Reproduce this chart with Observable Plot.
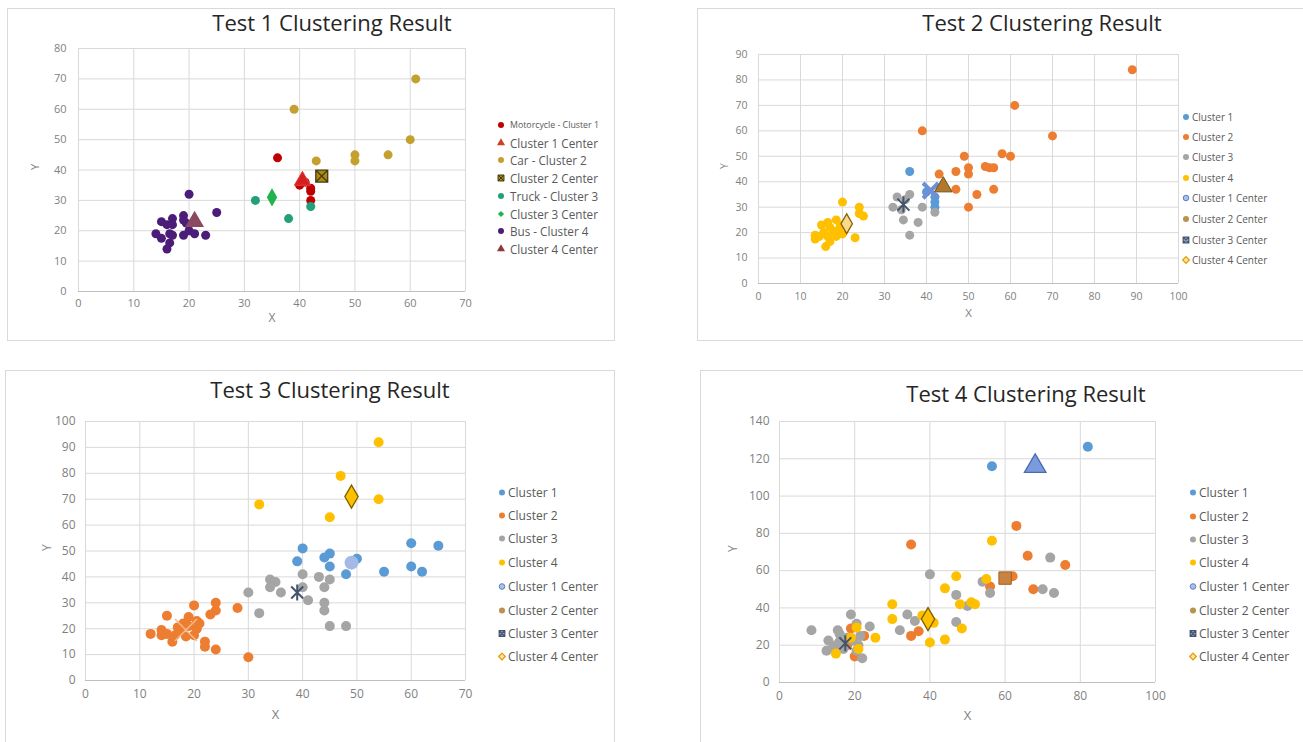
<!DOCTYPE html>
<html><head>
<meta charset="utf-8">
<script src="https://cdn.jsdelivr.net/npm/d3@7"></script>
<script src="https://cdn.jsdelivr.net/npm/@observablehq/plot@0.6"></script>
<style>
body{margin:0;width:1303px;height:742px;position:relative;background:#fff;font-family:"Open Sans",sans-serif;overflow:hidden}
.panel{position:absolute;border:1px solid #d9d9d9;box-sizing:border-box}
.title{position:absolute;transform:translate(-50%,-50%);white-space:nowrap;color:#262626;font-size:22px}
.plot{position:absolute}
.legend{position:absolute;color:#595959;white-space:nowrap}
.legend .item{position:absolute;display:flex;align-items:center;transform:translateY(-50%)}
.legend svg{display:block;overflow:visible}
</style>
</head><body>
<script>
// ---------- Test 1 data ----------
const t1Motorcycle = [[36,44],[40,35],[41,36],[42,34],[42,33],[42,30]];
const t1Center1 = [[40.5,36.5]];
const t1Car = [[61,70],[39,60],[60,50],[50,45],[50,43],[56,45],[43,43]];
const t1Center2 = [[44,38]];
const t1Truck = [[32,30],[38,24],[42,28]];
const t1Center3 = [[35,31]];
const t1Bus = [[20,32],[25,26],[19,25],[17,24],[15,23],[16,22],[17,22],[19,23.5],[19.5,22.5],[14,19],[15,17.5],[16.5,19],[17,18.5],[16.5,16],[16,14],[19,18.5],[20,20],[21,19],[23,18.5]];
const t1Center4 = [[21,23]];
const t1Labels = ["Motorcycle - Cluster 1","Cluster 1 Center","Car - Cluster 2","Cluster 2 Center","Truck - Cluster 3","Cluster 3 Center","Bus - Cluster 4","Cluster 4 Center"];

// ---------- Test 2 data ----------
const t2Cluster1 = [[36,44],[40,36],[42,34],[42,32],[42,30]];
const t2Cluster2 = [[89,84],[61,70],[39,60],[70,58],[49,50],[58,51],[60,50],[50,45.5],[50,43],[47,44],[43,43],[54,46],[55,45.5],[56,45.5],[47,37],[52,35],[56,37],[50,30]];
const t2Cluster3 = [[33,34],[36,35],[32,30],[34,29],[35,33],[39,30],[42,28],[34.5,25],[38,24],[36,19]];
const t2Cluster4 = [[20,32],[24,30],[24,27.5],[25,26.5],[15,23],[16.5,24],[18.5,25],[17,22],[19.5,23],[13.5,19],[13.5,17.5],[14.5,18.5],[16.5,18.5],[16,14.5],[17,16.5],[18.5,18.5],[20,19.5],[23,18],[18,20.5],[15.5,20],[19,21]];
const t2Center1 = [[41,36.5]];
const t2Center2 = [[44,38]];
const t2Center3 = [[34.5,31]];
const t2Center4 = [[21,23.5]];

// ---------- Test 3 data ----------
const t3Cluster1 = [[40,51],[39,46],[44,47.5],[45,49],[45,44],[50,47],[48,41],[55,42],[60,53],[65,52],[60,44],[62,42]];
const t3Cluster2 = [[20,29],[24,30],[24,27],[23,25.5],[28,28],[15,25],[12,18],[14,19.5],[14,17.5],[15,18],[16,15],[16.5,17.5],[18,22],[19,24.5],[20.5,23],[20.5,20],[20,17.5],[17.5,19.5],[22,15],[22,13],[24,12],[30,9],[19,21],[21,22],[17,20.5],[18.5,17]];
const t3Cluster3 = [[40,41],[43,40],[44,36],[45,39],[34,39],[35,38],[34,36],[36,34],[30,34],[32,26],[41,31],[40,36],[44,30],[44,27],[45,21],[48,21]];
const t3Cluster4 = [[54,92],[47,79],[54,70],[32,68],[45,63]];
const t3Center1 = [[49,45.5]];
const t3Center2 = [[18.5,19.5]];
const t3Center3 = [[39,34]];
const t3Center4 = [[49,71]];

// ---------- Test 4 data ----------
const t4Cluster1 = [[56.5,116],[82,126.5]];
const t4Cluster2 = [[63,84],[35,74],[66,68],[76,63],[67.5,50],[56,51.5],[62,57],[35,25],[37,27.5],[19,29],[22.5,25],[20,14],[18,20]];
const t4Cluster3 = [[8.5,28],[19,36.5],[40,58],[47,47],[54,54],[56,48],[72,67],[70,50],[73,48],[50,41],[34,36.5],[36,33],[47,32.5],[32,28],[24,30],[22,13],[15.5,28],[20.5,31.5],[13,22.5],[12.5,17],[15,20],[17,18],[19.5,22.5],[21.5,25],[16,26],[20.5,17],[14,18],[16,22],[18,24],[21,20]];
const t4Cluster4 = [[56.5,76],[47,57],[44,50.5],[55,55.5],[30,42],[30,34],[48,42],[51,43],[52,42],[48.5,29],[38,36],[41,32],[40,21.5],[44,23],[25.5,24],[20.5,29.5],[15,15.5],[19,24],[21,18]];
const t4Center1 = [[68,116]];
const t4Center2 = [[60,56]];
const t4Center3 = [[17.5,21]];
const t4Center4 = [[39.5,34]];

const clusterLabels = ["Cluster 1","Cluster 2","Cluster 3","Cluster 4","Cluster 1 Center","Cluster 2 Center","Cluster 3 Center","Cluster 4 Center"];

// ---------- custom symbols ----------
const starX = {draw(ctx, size){const r=Math.sqrt(size/Math.PI);const a=r*0.75;
  ctx.moveTo(-a,-a);ctx.lineTo(a,a);ctx.moveTo(a,-a);ctx.lineTo(-a,a);ctx.moveTo(0,-r);ctx.lineTo(0,r);}};
const boxX = {draw(ctx, size){const r=Math.sqrt(size/Math.PI)*0.85;
  ctx.moveTo(-r,-r);ctx.lineTo(r,-r);ctx.lineTo(r,r);ctx.lineTo(-r,r);ctx.closePath();
  ctx.moveTo(-r,-r);ctx.lineTo(r,r);ctx.moveTo(r,-r);ctx.lineTo(-r,r);}};

function symPath(sym, r){
  const s = typeof sym === "string" ? ({circle:d3.symbolCircle,triangle:d3.symbolTriangle,diamond:d3.symbolDiamond2,square:d3.symbolSquare,times:d3.symbolTimes}[sym]) : sym;
  return d3.symbol(s, r*r*Math.PI)();
}

function addBox(l,t,w,h){const d=document.createElement("div");d.className="panel";Object.assign(d.style,{left:l+"px",top:t+"px",width:w+"px",height:h+"px"});document.body.appendChild(d);}
function addTitle(text,cx,cy){const d=document.createElement("div");d.className="title";d.textContent=text;Object.assign(d.style,{left:cx+"px",top:cy+"px"});document.body.appendChild(d);}

function addChart(c){
  const marks = [
    Plot.gridX(c.xTicks,{stroke:"#d9d9d9",strokeOpacity:1}),
    Plot.gridY(c.yTicks,{stroke:"#d9d9d9",strokeOpacity:1}),
    Plot.ruleY([0],{stroke:"#bfbfbf"}),
    Plot.axisX(c.xTicks,{tickSize:0,tickPadding:c.xPad,label:null,fill:"#7f7f7f",fontSize:c.fs}),
    Plot.axisY(c.yTicks,{tickSize:0,tickPadding:c.yPad,label:null,fill:"#7f7f7f",fontSize:c.fs}),
    ...c.series.map(s=>Plot.dot(s.data,{x:d=>d[0],y:d=>d[1],r:s.r,symbol:s.symbol||"circle",fill:s.fill||"none",stroke:s.stroke||"none",strokeWidth:s.sw||1})),
    Plot.text(["X"],{text:d=>d,frameAnchor:"bottom",dy:c.xLab,fill:"#7f7f7f",fontSize:c.fs+1}),
    Plot.text(["Y"],{text:d=>d,frameAnchor:"left",dx:c.yLab,rotate:-90,fill:"#7f7f7f",fontSize:c.fs})
  ];
  const svg = Plot.plot({
    width:c.w,height:c.h,marginLeft:c.ml,marginRight:c.mr,marginTop:c.mt,marginBottom:c.mb,
    x:{domain:c.xd},y:{domain:c.yd},
    style:{fontFamily:"Open Sans, sans-serif",background:"transparent",overflow:"visible"},
    marks
  });
  svg.classList.add("plot");
  Object.assign(svg.style,{left:c.left+"px",top:c.top+"px",position:"absolute"});
  document.body.appendChild(svg);
}

function addLegend(items,mx,tx,ys,fs){
  const lg=document.createElement("div");lg.className="legend";Object.assign(lg.style,{left:"0px",top:"0px"});
  items.forEach((it,i)=>{
    const row=document.createElement("div");row.className="item";
    Object.assign(row.style,{left:(mx-6)+"px",top:ys[i]+"px",fontSize:(it.fs||fs)+"px"});
    const ns="http://www.w3.org/2000/svg";
    const sv=document.createElementNS(ns,"svg");sv.setAttribute("width",12);sv.setAttribute("height",12);
    const p=document.createElementNS(ns,"path");p.setAttribute("transform","translate(6,6)");
    p.setAttribute("d",symPath(it.symbol||"circle",it.r||3));
    p.setAttribute("fill",it.fill||"none");p.setAttribute("stroke",it.stroke||"none");p.setAttribute("stroke-width",it.sw||1);
    sv.appendChild(p);row.appendChild(sv);
    const sp=document.createElement("span");sp.textContent=it.label;sp.style.marginLeft=(tx-mx-6)+"px";
    row.appendChild(sp);lg.appendChild(row);
  });
  document.body.appendChild(lg);
}

// colors
const BLUE="#5B9BD5",ORANGE="#ED7D31",GRAY="#A5A5A5",YELLOW="#FFC000",STARC="#44546A";
const range=(a,b,s)=>d3.range(a,b+s/2,s);

// ---------- panel boxes + titles ----------
addBox(7,8,608,333);
addBox(697,8,620,333);
addBox(5,370,610,380);
addBox(700,370,620,380);
addTitle("Test 1 Clustering Result",332,22);
addTitle("Test 2 Clustering Result",1042,22);
addTitle("Test 3 Clustering Result",330,389);
addTitle("Test 4 Clustering Result",1026,393);

// ---------- Test 1 ----------
const T1RED="#C00000",T1GOLD="#C4A02E",T1TEAL="#21A07A",T1GREEN="#22B34E",T1PURP="#4B1D78",T1C4="#8B4A62";
addChart({left:10,top:30,w:475,h:306,ml:68,mr:20,mt:18,mb:45,xd:[0,70],yd:[0,80],
  xTicks:range(0,70,10),yTicks:range(0,80,10),fs:11,xPad:8,yPad:12,xLab:30,yLab:-43,
  series:[
    {data:t1Motorcycle,r:4.5,fill:T1RED},
    {data:t1Car,r:4.5,fill:T1GOLD},
    {data:t1Truck,r:4.5,fill:T1TEAL},
    {data:t1Bus,r:4.5,fill:T1PURP},
    {data:t1Center1,r:6,symbol:"triangle",fill:"#D42020",stroke:"#E84040"},
    {data:t1Center2,r:7,symbol:boxX,fill:"#B08A10",stroke:"#3F3A10",sw:1.3},
    {data:t1Center3,r:5.5,symbol:"diamond",fill:T1GREEN},
    {data:t1Center4,r:7,symbol:"triangle",fill:T1C4}
  ]});
addLegend([
  {label:t1Labels[0],fill:T1RED,fs:8.8},
  {label:t1Labels[1],symbol:"triangle",fill:"#D04020",r:3},
  {label:t1Labels[2],fill:T1GOLD},
  {label:t1Labels[3],symbol:boxX,fill:"#B08A10",stroke:"#3F3A10",r:3.5},
  {label:t1Labels[4],fill:T1TEAL},
  {label:t1Labels[5],symbol:"diamond",fill:T1GREEN,r:2.8},
  {label:t1Labels[6],fill:T1PURP},
  {label:t1Labels[7],symbol:"triangle",fill:"#8B3A3A",r:3}
],501,510,[125,143,160,178,196,214,231,249],11.7);

// ---------- shared legend ----------
function clusterLegend(mx,tx,ys,fs){
  addLegend([
    {label:clusterLabels[0],fill:BLUE},
    {label:clusterLabels[1],fill:ORANGE},
    {label:clusterLabels[2],fill:GRAY},
    {label:clusterLabels[3],fill:YELLOW},
    {label:clusterLabels[4],fill:"#A9C0E8",stroke:"#5B7FC7",r:2.8},
    {label:clusterLabels[5],fill:"#B8924E"},
    {label:clusterLabels[6],symbol:boxX,fill:"#8FAADC",stroke:STARC,r:3.3,sw:1.2},
    {label:clusterLabels[7],symbol:"diamond",fill:"#FFE6A0",stroke:"#E09A00",r:3,sw:1.2}
  ],mx,tx,ys,fs);
}

// ---------- Test 2 ----------
addChart({left:710,top:35,w:488,h:293,ml:48,mr:20,mt:19,mb:45,xd:[0,100],yd:[0,90],
  xTicks:range(0,100,10),yTicks:range(0,90,10),fs:10.5,xPad:9,yPad:11,xLab:33,yLab:-34,
  series:[
    {data:t2Cluster1,r:4.5,fill:BLUE},
    {data:t2Cluster2,r:4.5,fill:ORANGE},
    {data:t2Cluster3,r:4.5,fill:GRAY},
    {data:t2Cluster4,r:4.5,fill:YELLOW},
    {data:t2Center1,r:7,symbol:"times",stroke:"#6F8FD8",sw:4},
    {data:t2Center2,r:6.5,symbol:"triangle",fill:"#B07A2A",stroke:"#6B5020"},
    {data:t2Center3,r:8,symbol:starX,stroke:STARC,sw:2},
    {data:t2Center4,r:6,symbol:"diamond",fill:"#F9D98A",stroke:"#8B5E00",sw:1.3}
  ]});
clusterLegend(1186,1192,[117,137,157,178,198,219,240,260],10);

// ---------- Test 3 ----------
addChart({left:20,top:405,w:465,h:320,ml:65,mr:20,mt:16,mb:45,xd:[0,70],yd:[0,100],
  xTicks:range(0,70,10),yTicks:range(0,100,10),fs:12,xPad:9,yPad:10,xLab:38,yLab:-38,
  series:[
    {data:t3Cluster1,r:5,fill:BLUE},
    {data:t3Cluster2,r:5,fill:ORANGE},
    {data:t3Cluster3,r:5,fill:GRAY},
    {data:t3Cluster4,r:5,fill:YELLOW},
    {data:t3Center1,r:7,fill:"#A4B9E5"},
    {data:t3Center2,r:10,symbol:"times",stroke:"#F8B98A",sw:1.5},
    {data:t3Center3,r:8,symbol:starX,stroke:STARC,sw:2},
    {data:t3Center4,r:7,symbol:"diamond",fill:YELLOW,stroke:"#7F6000",sw:1.3}
  ]});
clusterLegend(502,508,[492,515,538,562,586,610,633,656],12);

// ---------- Test 4 ----------
addChart({left:710,top:405,w:465,h:322,ml:69,mr:20,mt:16,mb:45,xd:[0,100],yd:[0,140],
  xTicks:range(0,100,20),yTicks:range(0,140,20),fs:12,xPad:9,yPad:10,xLab:37,yLab:-46,
  series:[
    {data:t4Cluster1,r:5,fill:BLUE},
    {data:t4Cluster2,r:5,fill:ORANGE},
    {data:t4Cluster3,r:5,fill:GRAY},
    {data:t4Cluster4,r:5,fill:YELLOW},
    {data:t4Center1,r:8,symbol:"triangle",fill:"#7B9CDC",stroke:"#4A6BB0",sw:1.3},
    {data:t4Center2,r:7,symbol:"square",fill:"#C9823F",stroke:"#A0622A"},
    {data:t4Center3,r:8,symbol:starX,stroke:STARC,sw:2},
    {data:t4Center4,r:7,symbol:"diamond",fill:YELLOW,stroke:"#7F6000",sw:1.3}
  ]});
clusterLegend(1193,1199,[492,516,539,562,586,610,633,656],12);
</script>
</body></html>
